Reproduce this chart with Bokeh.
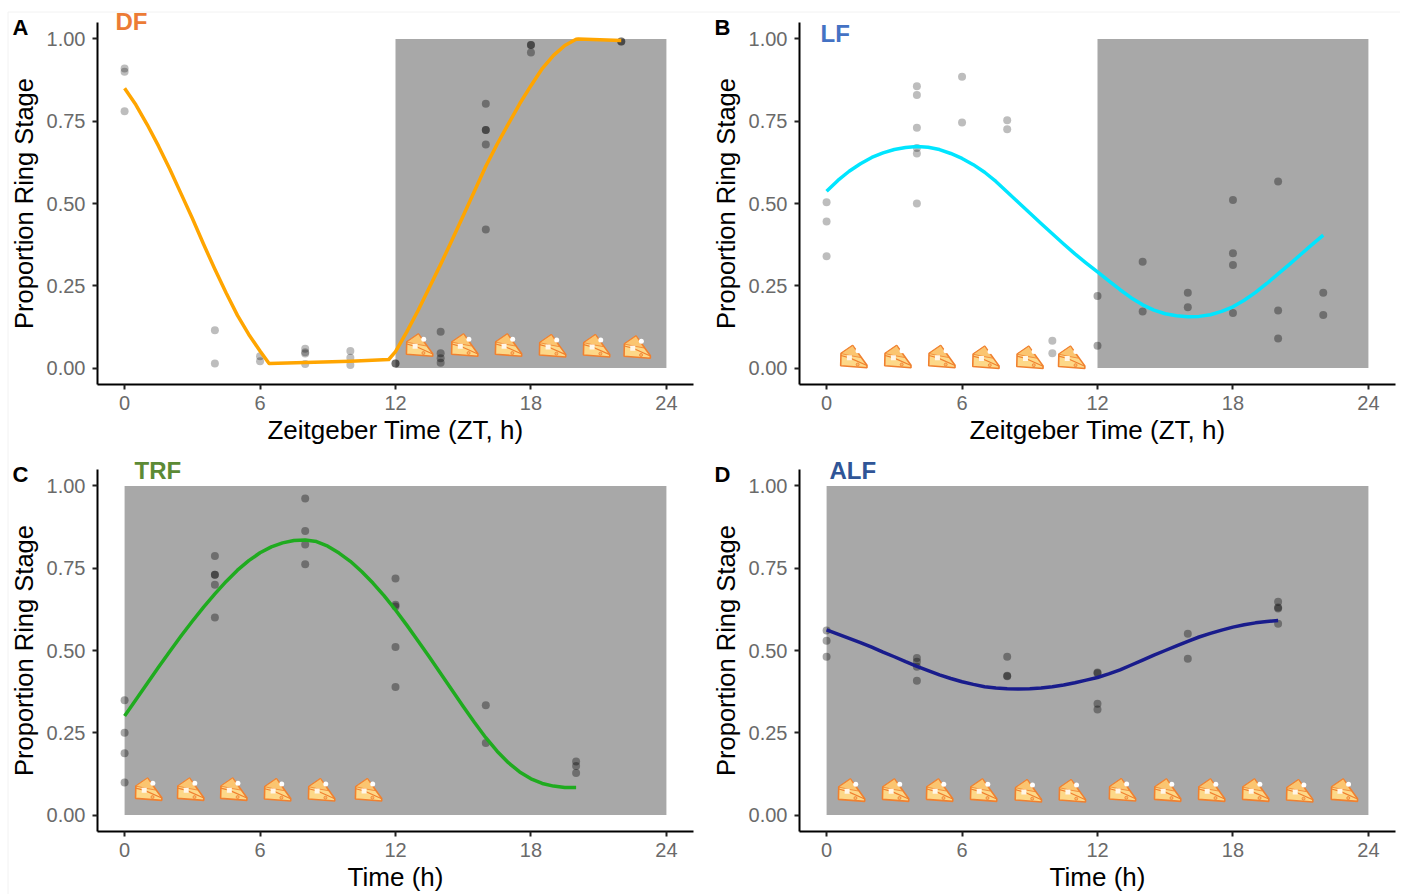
from bokeh.plotting import figure
from bokeh.layouts import column, row
from bokeh.models import Range1d, FixedTicker, GridBox
from bokeh.core.properties import value
from bokeh.embed import file_html
from bokeh.resources import INLINE

FONT = "Liberation Sans"

# --- Panel A (DF)
a_pts_x = [0,0,0, 4,4, 6,6, 8,8,8,8, 10,10,10, 12,12, 14,14,14,14, 16,16,16,16,16, 18,18,18, 22,22]
a_pts_y = [.91,.90,.78, .115,.014, .036,.021, .059,.048,.044,.012, .052,.031,.009, .014,.014,
           .110,.045,.03,.016, .803,.723,.723,.679,.421, .982,.982,.959, .992,.992]
a_line_x = [0,.5,1,1.5,2,2.5,3,3.5,4,4.5,5,5.5,6,6.4,8,10,11.7,12,12.5,13,13.5,14,14.5,15,15.5,16,16.5,17,17.5,18,18.5,19,19.5,20,20.1,22]
a_line_y = [.85,.80,.74,.675,.605,.53,.455,.376,.30,.228,.16,.102,.052,.014,.017,.021,.026,.05,.11,.175,.245,.315,.388,.463,.538,.613,.68,.742,.803,.858,.91,.95,.98,.999,1.0,.995]
a_cheese_x = [13.06,15.06,17.0,18.95,20.9,22.7]
a_cheese_y = [.07,.07,.07,.068,.068,.064]
a_dark = (12, 24)

# --- Panel B (LF)
b_pts_x = [0,0,0, 4,4,4,4,4,4, 6,6, 8,8, 10,10, 12,12, 14,14, 16,16, 18,18,18,18, 20,20,20, 22,22]
b_pts_y = [.504,.445,.34, .856,.83,.73,.669,.652,.5, .885,.746, .753,.726, .083,.045, .219,.068,
           .323,.172, .229,.185, .511,.349,.313,.167, .567,.175,.09, .229,.161]
b_line_x = [0,.5,1,1.5,2,2.5,3,3.5,4,4.5,5,5.5,6,6.5,7,7.5,8,8.5,9,9.5,10,10.5,11,11.5,12,12.5,13,13.5,14,14.5,15,15.5,16,16.5,17,17.5,18,18.5,19,19.5,20,20.5,21,21.5,22]
b_line_y = [.537,.570,.598,.621,.640,.654,.664,.670,.673,.671,.664,.652,.637,.618,.595,.567,.535,.503,.471,.439,.408,.377,.347,.319,.292,.265,.238,.213,.192,.176,.165,.159,.156,.157,.162,.172,.186,.206,.23,.257,.286,.315,.345,.375,.404]
b_cheese_x = [1.2,3.15,5.1,7.05,9.0,10.85]
b_cheese_y = [.035,.035,.035,.033,.033,.033]
b_dark = (12, 24)

# --- Panel C (TRF)
c_pts_x = [0,0,0,0, 4,4,4,4,4, 8,8,8,8, 12,12,12,12,12, 16,16, 20,20,20]
c_pts_y = [.349,.25,.188,.099, .787,.73,.73,.70,.60, .962,.863,.822,.762,
           .719,.639,.634,.511,.389, .334,.219, .163,.149,.128]
c_line_x = [0,.5,1,1.5,2,2.5,3,3.5,4,4.5,5,5.5,6,6.5,7,7.5,8,8.5,9,9.5,10,10.5,11,11.5,12,12.5,13,13.5,14,14.5,15,15.5,16,16.5,17,17.5,18,18.5,19,19.5,20]
c_line_y = [.301,.35,.40,.449,.497,.544,.589,.632,.672,.71,.744,.773,.797,.815,.827,.834,.836,.831,.817,.796,.771,.74,.705,.666,.623,.577,.529,.48,.43,.38,.33,.281,.235,.194,.159,.131,.11,.096,.088,.084,.084]
c_cheese_x = [1.06,2.92,4.83,6.77,8.72,10.8]
c_cheese_y = [.079,.079,.079,.077,.077,.077]
c_dark = (0, 24)

# --- Panel D (ALF)
d_pts_x = [0,0,0, 4,4,4,4, 8,8,8, 12,12,12,12, 16,16, 20,20,20,20]
d_pts_y = [.561,.53,.481, .477,.466,.451,.408, .481,.423,.422, .433,.431,.338,.321, .551,.475, .648,.631,.628,.581]
d_line_x = [0,.5,1,1.5,2,2.5,3,3.5,4,4.5,5,5.5,6,6.5,7,7.5,8,8.5,9,9.5,10,10.5,11,11.5,12,12.5,13,13.5,14,14.5,15,15.5,16,16.5,17,17.5,18,18.5,19,19.5,20]
d_line_y = [.563,.55,.537,.524,.51,.495,.481,.466,.452,.439,.426,.415,.405,.397,.39,.386,.384,.383,.384,.386,.39,.395,.402,.41,.418,.429,.441,.456,.471,.486,.5,.514,.528,.541,.552,.562,.571,.578,.584,.588,.591]
d_cheese_x = [1.1,3.05,5.0,6.95,8.93,10.88,13.1,15.1,17.05,19.0,20.95,22.93]
d_cheese_y = [.076,.076,.076,.076,.074,.074,.077,.076,.076,.076,.074,.076]
d_dark = (0, 24)

x_ticks = [0, 6, 12, 18, 24]
y_ticks = [0, .25, .5, .75, 1]
y_labels = {0: "0.00", .25: "0.25", .5: "0.50", .75: "0.75", 1: "1.00"}

panel_letters = ["A", "B", "C", "D"]
condition_tags = ["DF", "LF", "TRF", "ALF"]
tag_colors = ["#EC7B35", "#4472C4", "#5C8A35", "#2F5597"]

X_RANGE = (-1.2, 25.2)
Y_RANGE = (-0.05, 1.05)
FRAME_W, FRAME_H = 596, 362
PX_X = FRAME_W / (X_RANGE[1] - X_RANGE[0])
PX_Y = FRAME_H / (Y_RANGE[1] - Y_RANGE[0])
PAGE_W, PAGE_H = 1400, 894

# cheese icon shapes: pixel offsets around an icon's centre, y down
BODY = [(-12.7,-3),(-1,-11),(13.3,8.7),(13.3,11.3),(-13,9.3)]
FACET = [(-12.7,-3),(-1,-11),(7,1),(-4,-1)]
FOLD = [(-12.7,-1),(-4,1.3),(13.3,9)]


def cheese(p, xs, ys):
    def poly(shape):
        return ([[cx + dx / PX_X for dx, _ in shape] for cx in xs],
                [[cy - dy / PX_Y for _, dy in shape] for cy in ys])
    bx, by = poly(BODY)
    p.patches(bx, by, fill_color="#FDD888", line_color="#F0802F", line_width=1.6)
    fx, fy = poly(FACET)
    p.patches(fx, fy, fill_color="#FBC570", line_color="#F0802F", line_width=0.8)
    lx, ly = poly(FOLD)
    p.multi_line(lx, ly, line_color="#F0802F", line_width=1.2)
    p.scatter([c - 4.3 / PX_X for c in xs], [c - 1.3 / PX_Y for c in ys], marker="square",
              size=5, fill_color="#FFF6E8", line_color=None)
    p.scatter([c + 4.3 / PX_X for c in xs], [c + 5.7 / PX_Y for c in ys], marker="circle",
              size=5, fill_color="white", line_color=None)
    p.scatter([c + 4 / PX_X for c in xs], [c - 8 / PX_Y for c in ys], marker="circle",
              size=3, fill_color="#F9B767", line_color="#F0802F", line_width=0.8)


def panel(xlabel, pts_x, pts_y, lx, ly, line_color, cx, cy, dark, height, left, top, bottom, right):
    p = figure(width=700, height=height, output_backend="svg", toolbar_location=None,
               x_range=Range1d(*X_RANGE), y_range=Range1d(*Y_RANGE),
               min_border_left=left, min_border_right=right,
               min_border_top=top, min_border_bottom=bottom,
               background_fill_color="white", border_fill_color="white", outline_line_color=None)
    p.grid.visible = False
    p.quad(left=[dark[0]], right=[dark[1]], bottom=[0], top=[1], fill_color="#A8A8A8", line_color=None)
    alphas = [0.34 if x >= dark[0] else 0.26 for x in pts_x]
    p.scatter(pts_x, pts_y, marker="circle", size=8, fill_color="black", fill_alpha=alphas, line_color=None)
    p.line(lx, ly, line_color=line_color, line_width=3.5, line_join="round")
    cheese(p, cx, cy)

    for ax in (p.xaxis[0], p.yaxis[0]):
        ax.axis_line_color = "black"
        ax.axis_line_width = 2
        ax.major_tick_line_color = "#222222"
        ax.major_tick_line_width = 2
        ax.major_tick_in = 0
        ax.major_tick_out = 5
        ax.minor_tick_line_color = None
        ax.major_label_text_font = FONT
        ax.major_label_text_font_size = "20px"
        ax.major_label_text_color = "#6A6A6A"
        ax.axis_label_text_font = FONT
        ax.axis_label_text_font_style = "normal"
        ax.axis_label_text_color = "black"
    p.xaxis[0].axis_label_text_font_size = "26px"
    p.yaxis[0].axis_label_text_font_size = "25.5px"
    p.xaxis[0].ticker = FixedTicker(ticks=x_ticks)
    p.yaxis[0].ticker = FixedTicker(ticks=y_ticks)
    p.yaxis[0].major_label_overrides = y_labels
    p.xaxis[0].axis_label = xlabel
    p.yaxis[0].axis_label = "Proportion Ring Stage"
    p.xaxis[0].major_label_standoff = 6
    p.yaxis[0].major_label_standoff = 7
    p.xaxis[0].axis_label_standoff = 2
    p.yaxis[0].axis_label_standoff = 6
    return p


XL1 = "Zeitgeber Time (ZT, h)"
XL2 = "Time (h)"
pa = panel(XL1, a_pts_x, a_pts_y, a_line_x, a_line_y, "#FFA500", a_cheese_x, a_cheese_y, a_dark, 450, 97, 22, 66, 7)
pb = panel(XL1, b_pts_x, b_pts_y, b_line_x, b_line_y, "#00E5FF", b_cheese_x, b_cheese_y, b_dark, 450, 99, 22, 66, 5)
pc = panel(XL2, c_pts_x, c_pts_y, c_line_x, c_line_y, "#1FAB1F", c_cheese_x, c_cheese_y, c_dark, 444, 97, 19, 63, 7)
pd = panel(XL2, d_pts_x, d_pts_y, d_line_x, d_line_y, "#191C8C", d_cheese_x, d_cheese_y, d_dark, 444, 99, 19, 63, 5)

# transparent sheet over the whole page, in page pixels, for texts that sit outside the plot frames
sheet = figure(width=PAGE_W, height=PAGE_H, output_backend="svg", toolbar_location=None,
               x_range=Range1d(0, PAGE_W), y_range=Range1d(PAGE_H, 0),
               x_axis_type=None, y_axis_type=None, min_border=0, outline_line_color=None,
               background_fill_alpha=0, border_fill_alpha=0)
sheet.grid.visible = False
sheet.line([7.5, 7.5, PAGE_W], [PAGE_H, 11.5, 11.5], line_color="#F2F2F2", line_width=1)
sheet.text([12, 714, 12, 714], [27, 27, 474, 474], text=panel_letters, text_color="black",
           text_font=value(FONT), text_font_style="bold", text_font_size="22px",
           text_baseline="middle", text_align="left")
sheet.text([115, 820, 134, 829], [21, 33, 470, 470], text=condition_tags, text_color=tag_colors,
           text_font=value(FONT), text_font_style="bold", text_font_size="24px",
           text_baseline="middle", text_align="left")

plots = column(row(pa, pb), row(pc, pd))
layout = GridBox(children=[(plots, 0, 0), (sheet, 0, 0)])
open("out.html", "w").write(file_html(layout, INLINE))
